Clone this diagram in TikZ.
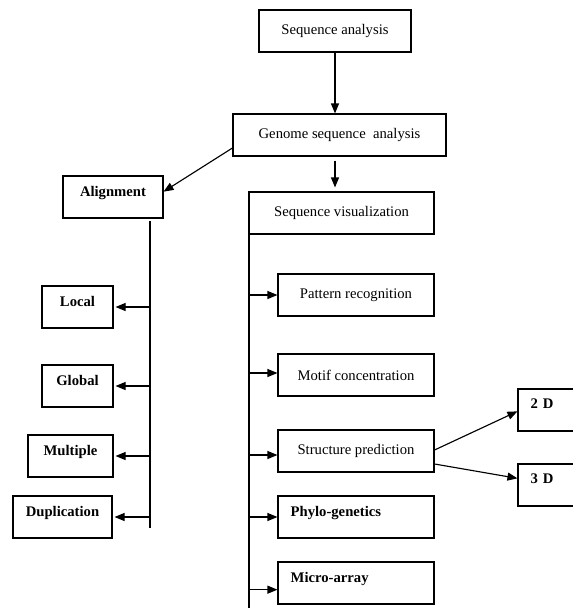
\documentclass[tikz,border=0pt]{standalone}
\usepackage{fontspec}
\setmainfont{Liberation Serif}
\usetikzlibrary{arrows.meta, positioning}

\begin{document}
\begin{tikzpicture}[x=0.75pt, y=-0.75pt,
    box/.style={draw, line width=0.85pt, minimum height=31.5pt, inner sep=0pt,
        font=\fontsize{11}{13}\selectfont},
    boldbox/.style={box, font=\fontsize{11}{13}\selectfont\bfseries, text depth=9pt},
    leftbox/.style={boldbox, align=left, inner xsep=9.5pt},
    arr/.style={-{Triangle[length=7.5pt, width=6pt]}, line width=0.85pt},
    trunk/.style={line width=0.85pt}]

    \useasboundingbox (0,0) rectangle (573,608);
    \clip (0,0) rectangle (573,608);

    % Top of the chart
    \node[box, minimum width=114pt] (seqan) at (335,31) {Sequence analysis};
    \node[box, minimum width=159.75pt] (genome) at (339.5,135) {Genome sequence\ \ analysis};
    \node[box, minimum width=138.75pt] (seqvis) at (341.5,213) {Sequence visualization};

    \draw[arr] (seqan.south) -- (seqan.south |- genome.north);
    \draw[arr] ([yshift=-3pt]genome.south -| seqan.south) -- ([yshift=3pt]seqan.south |- seqvis.north);

    % Alignment branch
    \node[boldbox, minimum width=75pt] (align) at (113,197) {Alignment};
    \draw[arr] ([yshift=-9.75pt]genome.west) -- ([yshift=4pt]align.east);

    \node[boldbox, minimum width=53.25pt] (local) at (77.5,307) {Local};
    \node[boldbox, minimum width=53.25pt] (global) at (77.5,386) {Global};
    \node[boldbox, minimum width=63.75pt] (multiple) at (70.5,456) {Multiple};
    \node[boldbox, minimum width=74.25pt] (dupl) at (62.5,517) {Duplication};

    \coordinate (atop) at (150,221);
    \coordinate (abot) at (150,528);
    \draw[trunk] (atop) -- (abot);
    \draw[arr] (atop |- local.east) -- ([xshift=1.5pt]local.east);
    \draw[arr] (atop |- global.east) -- ([xshift=1.5pt]global.east);
    \draw[arr] (atop |- multiple.east) -- ([xshift=1.5pt]multiple.east);
    \draw[arr] (atop |- dupl.east) -- ([xshift=1.5pt]dupl.east);

    % Visualization branch
    \node[box, minimum width=117pt] (pattern) at (356,295) {Pattern recognition};
    \node[box, minimum width=117pt] (motif) at (356,375) {Motif concentration};
    \node[box, minimum width=117pt] (struct) at (356,451) {Structure prediction};
    \node[leftbox, text width=98pt] (phylo) at (356,517) {Phylo-genetics};
    \node[leftbox, text width=98pt] (micro) at (356,583) {Micro-array};

    \coordinate (vtop) at (249,234);
    \coordinate (vbot) at (249,620);
    \draw[trunk] (vtop) -- (vbot);
    \draw[arr] (vbot |- pattern.west) -- (pattern.west);
    \draw[arr] ([yshift=1.5pt]vbot |- motif.west) -- ([yshift=1.5pt]motif.west);
    \draw[arr] ([yshift=-3pt]vbot |- struct.west) -- ([yshift=-3pt]struct.west);
    \draw[arr] (vbot |- phylo.west) -- (phylo.west);
    \draw[arr] ([yshift=-5pt]vbot |- micro.west) -- ([yshift=-5pt]micro.west);

    % Structure outputs
    \node[leftbox, text width=50pt] (twod) at (564,410) {2 D};
    \node[leftbox, text width=50pt] (threed) at (564,485) {3 D};
    \draw[arr] ([yshift=0.75pt]struct.east) -- ([yshift=-1pt]twod.west);
    \draw[arr] ([yshift=-9.75pt]struct.east) -- ([yshift=5pt]threed.west);
\end{tikzpicture}
\end{document}
